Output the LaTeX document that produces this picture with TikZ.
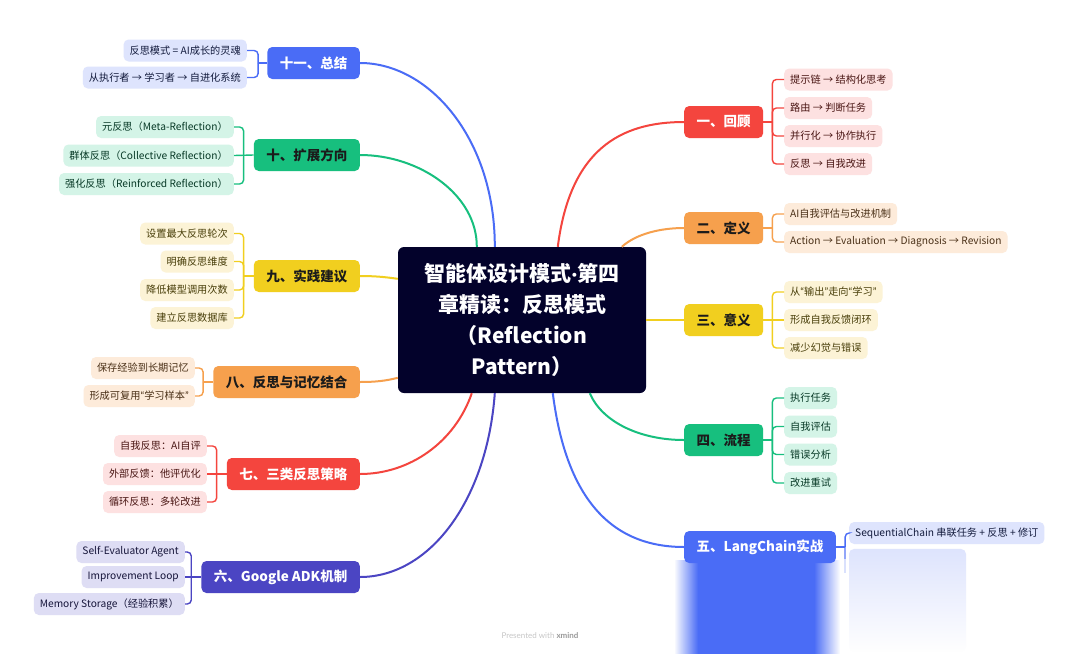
\documentclass[tikz,border=0pt]{standalone}
\usepackage{fontspec}
\setmainfont{Noto Sans CJK SC}
\newfontfamily\lat{Lato}
\usetikzlibrary{calc,fadings}
\definecolor{cRed}{HTML}{F4453E}
\definecolor{cRedL}{HTML}{FDE1E1}
\definecolor{cOra}{HTML}{F6A04D}
\definecolor{cOraL}{HTML}{FDEBDA}
\definecolor{cYel}{HTML}{F1CF1F}
\definecolor{cYelL}{HTML}{FCF3D6}
\definecolor{cGrn}{HTML}{17BF7E}
\definecolor{cGrnL}{HTML}{D4F4E7}
\definecolor{cBlu}{HTML}{4A6CF6}
\definecolor{cBluL}{HTML}{DEE4FD}
\definecolor{cInd}{HTML}{4B45C3}
\definecolor{cIndL}{HTML}{DEDDF4}
\definecolor{cCen}{HTML}{03022B}
\definecolor{cDark}{HTML}{1B1B1B}
\tikzfading[name=fadeL, left color=transparent!100, right color=transparent!0]
\tikzfading[name=fadeR, left color=transparent!0, right color=transparent!100]
\tikzfading[name=fadeD, top color=transparent!0, bottom color=transparent!100]
\newcommand\myqo{{\lat “}}
\newcommand\myqc{{\lat ”}}
\tikzset{
  maintopic/.style={rounded corners=5pt, minimum height=32pt, inner xsep=12.5pt, inner ysep=0pt,
    font=\bfseries\fontsize{13.5}{16}\selectfont},
  subtopic/.style={rounded corners=5pt, minimum height=22pt, inner xsep=6pt, inner ysep=0pt,
    font=\fontsize{10.2}{12}\selectfont},
  link/.style={line width=2pt},
  sublink/.style={line width=1.4pt, rounded corners=4pt},
}
\begin{document}
\begin{tikzpicture}[x=1pt,y=1pt]
\useasboundingbox (0,0) rectangle (1080,-654);
\fill[white] (0,0) rectangle (1080,-654);

% blurred remains under LangChain branch
\fill[cBlu] (698,-560) rectangle (814,-654);
\fill[cBlu, path fading=fadeL] (674,-560) rectangle (698,-654);
\fill[cBlu, path fading=fadeR] (814,-560) rectangle (840,-654);
\fill[cBluL, rounded corners=5pt, path fading=fadeD] (849,-549) rectangle (966,-652);

% central topic
\node[fill=cCen, text=white, rounded corners=6pt, minimum width=248pt, minimum height=146pt,
  align=center, font=\bfseries\fontsize{21}{31}\selectfont] (cen) at (522,-320)
  {智能体设计模式{\lat\bfseries ·}第四\\章精读：反思模式\\（Reflection\\Pattern）};

% ---------- right side ----------
\node[maintopic, fill=cRed, text=white, anchor=west] (t1) at (684,-122) {一、回顾};
\node[maintopic, fill=cOra, text=cDark, anchor=west] (t2) at (684,-228) {二、定义};
\node[maintopic, fill=cYel, text=cDark, anchor=west] (t3) at (684,-320) {三、意义};
\node[maintopic, fill=cGrn, text=cDark, anchor=west] (t4) at (684,-440) {四、流程};
\node[maintopic, fill=cBlu, text=white, anchor=west] (t5) at (684,-547) {五、LangChain实战};

\node[subtopic, fill=cRedL, text=cRed!30!black, anchor=west] (t1a) at (784,-79.5) {提示链 → 结构化思考};
\node[subtopic, fill=cRedL, text=cRed!30!black, anchor=west] (t1b) at (784,-108) {路由 → 判断任务};
\node[subtopic, fill=cRedL, text=cRed!30!black, anchor=west] (t1c) at (784,-136) {并行化 → 协作执行};
\node[subtopic, fill=cRedL, text=cRed!30!black, anchor=west] (t1d) at (784,-164) {反思 → 自我改进};

\node[subtopic, fill=cOraL, text=cOra!30!black, anchor=west] (t2a) at (784,-214) {AI自我评估与改进机制};
\node[subtopic, fill=cOraL, text=cOra!30!black, anchor=west] (t2b) at (784,-242) {Action → Evaluation → Diagnosis → Revision};

\node[subtopic, fill=cYelL, text=cYel!30!black, anchor=west] (t3a) at (784,-292) {从\myqo 输出\myqc 走向\myqo 学习\myqc};
\node[subtopic, fill=cYelL, text=cYel!30!black, anchor=west] (t3b) at (784,-320) {形成自我反馈闭环};
\node[subtopic, fill=cYelL, text=cYel!30!black, anchor=west] (t3c) at (784,-348) {减少幻觉与错误};

\node[subtopic, fill=cGrnL, text=cGrn!30!black, anchor=west] (t4a) at (784,-398) {执行任务};
\node[subtopic, fill=cGrnL, text=cGrn!30!black, anchor=west] (t4b) at (784,-426.5) {自我评估};
\node[subtopic, fill=cGrnL, text=cGrn!30!black, anchor=west] (t4c) at (784,-454.5) {错误分析};
\node[subtopic, fill=cGrnL, text=cGrn!30!black, anchor=west] (t4d) at (784,-483) {改进重试};

\node[subtopic, fill=cBluL, text=cBlu!25!black, anchor=west] (t5a) at (849,-533) {SequentialChain 串联任务 + 反思 + 修订};

% ---------- left side ----------
\node[maintopic, fill=cBlu, text=white, anchor=east] (t11) at (360,-63) {十一、总结};
\node[maintopic, fill=cGrn, text=cDark, anchor=east] (t10) at (360,-155) {十、扩展方向};
\node[maintopic, fill=cYel, text=cDark, anchor=east] (t9) at (360,-276) {九、实践建议};
\node[maintopic, fill=cOra, text=cDark, anchor=east] (t8) at (360,-382) {八、反思与记忆结合};
\node[maintopic, fill=cRed, text=white, anchor=east] (t7) at (360,-474) {七、三类反思策略};
\node[maintopic, fill=cInd, text=white, anchor=east] (t6) at (360,-577) {六、Google ADK机制};

\node[subtopic, fill=cBluL, text=cBlu!25!black, anchor=east] (t11a) at (247,-50.5) {反思模式 = AI成长的灵魂};
\node[subtopic, fill=cBluL, text=cBlu!25!black, anchor=east] (t11b) at (247,-77.5) {从执行者 → 学习者 → 自进化系统};

\node[subtopic, fill=cGrnL, text=cGrn!30!black, anchor=east] (t10a) at (234,-127) {元反思（Meta-Reflection）};
\node[subtopic, fill=cGrnL, text=cGrn!30!black, anchor=east] (t10b) at (234,-155.5) {群体反思（Collective Reflection）};
\node[subtopic, fill=cGrnL, text=cGrn!30!black, anchor=east] (t10c) at (234,-184) {强化反思（Reinforced Reflection）};

\node[subtopic, fill=cYelL, text=cYel!30!black, anchor=east] (t9a) at (234,-233.5) {设置最大反思轮次};
\node[subtopic, fill=cYelL, text=cYel!30!black, anchor=east] (t9b) at (234,-261.5) {明确反思维度};
\node[subtopic, fill=cYelL, text=cYel!30!black, anchor=east] (t9c) at (234,-290) {降低模型调用次数};
\node[subtopic, fill=cYelL, text=cYel!30!black, anchor=east] (t9d) at (234,-318) {建立反思数据库};

\node[subtopic, fill=cOraL, text=cOra!30!black, anchor=east] (t8a) at (195,-368) {保存经验到长期记忆};
\node[subtopic, fill=cOraL, text=cOra!30!black, anchor=east] (t8b) at (195,-396) {形成可复用\myqo 学习样本\myqc};

\node[subtopic, fill=cRedL, text=cRed!30!black, anchor=east] (t7a) at (207,-446) {自我反思：AI自评};
\node[subtopic, fill=cRedL, text=cRed!30!black, anchor=east] (t7b) at (207,-474) {外部反馈：他评优化};
\node[subtopic, fill=cRedL, text=cRed!30!black, anchor=east] (t7c) at (207,-502) {循环反思：多轮改进};

\node[subtopic, fill=cIndL, text=cInd!30!black, anchor=east] (t6a) at (185,-552) {Self-Evaluator Agent};
\node[subtopic, fill=cIndL, text=cInd!30!black, anchor=east] (t6b) at (185,-577) {Improvement Loop};
\node[subtopic, fill=cIndL, text=cInd!30!black, anchor=east] (t6c) at (185,-604) {Memory Storage（经验积累）};

% ---------- sub connectors ----------
\coordinate (e1) at ($(t1.east)+(9,0)$);
\coordinate (e2) at ($(t2.east)+(9,0)$);
\coordinate (e3) at ($(t3.east)+(9,0)$);
\coordinate (e4) at ($(t4.east)+(9,0)$);
\coordinate (e5) at ($(t5.east)+(9,0)$);
\coordinate (e5d) at ($(e5)+(0,-12)$);
\coordinate (e5e) at ($(e5)+(0,-26)$);
\coordinate (e11) at ($(t11.west)+(-9,0)$);
\coordinate (e10) at ($(t10.west)+(-10,0)$);
\coordinate (e9) at ($(t9.west)+(-10,0)$);
\coordinate (e8) at ($(t8.west)+(-10,0)$);
\coordinate (e7) at ($(t7.west)+(-10,0)$);
\coordinate (e6) at ($(t6.west)+(-10,0)$);

\draw[sublink, cRed] (t1.east) -- (e1);
\foreach \c in {t1a,t1b,t1c,t1d} \draw[sublink, cRed] (e1) |- (\c.west);
\draw[sublink, cOra] (t2.east) -- (e2);
\foreach \c in {t2a,t2b} \draw[sublink, cOra] (e2) |- (\c.west);
\draw[sublink, cYel] (t3.east) -- (t3b.west);
\foreach \c in {t3a,t3c} \draw[sublink, cYel] (e3) |- (\c.west);
\draw[sublink, cGrn] (t4.east) -- (e4);
\foreach \c in {t4a,t4b,t4c,t4d} \draw[sublink, cGrn] (e4) |- (\c.west);
\draw[sublink, cBlu] (t5.east) -- (e5);
\draw[sublink, cBlu] (e5) |- (t5a.west);
\draw[sublink, cBlu, opacity=0.6] (e5) -- (e5d);
\draw[sublink, cBlu, opacity=0.2] (e5d) -- (e5e);

\draw[sublink, cBlu] (t11.west) -- (e11);
\foreach \c in {t11a,t11b} \draw[sublink, cBlu] (e11) |- (\c.east);
\draw[sublink, cGrn] (t10.west) -- (t10b.east);
\foreach \c in {t10a,t10c} \draw[sublink, cGrn] (e10) |- (\c.east);
\draw[sublink, cYel] (t9.west) -- (e9);
\foreach \c in {t9a,t9b,t9c,t9d} \draw[sublink, cYel] (e9) |- (\c.east);
\draw[sublink, cOra] (t8.west) -- (e8);
\foreach \c in {t8a,t8b} \draw[sublink, cOra] (e8) |- (\c.east);
\draw[sublink, cRed] (t7.west) -- (t7b.east);
\foreach \c in {t7a,t7c} \draw[sublink, cRed] (e7) |- (\c.east);
\draw[sublink, cInd] (t6.west) -- (t6b.east);
\foreach \c in {t6a,t6c} \draw[sublink, cInd] (e6) |- (\c.east);

% ---------- main connectors ----------
\draw[link, cRed] ($(cen.north west)+(160,0)$) .. controls (570,-150) and (620,-122) .. (t1.west);
\draw[link, cOra] ($(cen.north west)+(224,0)$) .. controls (636,-234) and (660,-228) .. (t2.west);
\draw[link, cYel] (cen.east) -- (t3.west);
\draw[link, cGrn] ($(cen.south west)+(192,0)$) .. controls (602,-422) and (640,-440) .. (t4.west);
\draw[link, cBlu] ($(cen.south west)+(155,0)$) .. controls (565,-490) and (605,-547) .. (t5.west);
\draw[link, cBlu] ($(cen.north west)+(97,0)$) .. controls (495,-140) and (430,-63) .. (t11.east);
\draw[link, cGrn] ($(cen.north west)+(79,0)$) .. controls (477,-195) and (420,-155) .. (t10.east);
\draw[link, cYel] ($(cen.north west)+(0,-32)$) .. controls (385,-277) and (375,-276) .. (t9.east);
\draw[link, cOra] ($(cen.north west)+(0,-131)$) .. controls (385,-381) and (375,-382) .. (t8.east);
\draw[link, cRed] ($(cen.south west)+(74,0)$) .. controls (455,-442) and (410,-474) .. (t7.east);
\draw[link, cInd] ($(cen.south west)+(97,0)$) .. controls (487,-500) and (430,-577) .. (t6.east);

% footer
\node[text=black!22, font=\fontsize{8}{10}\selectfont] (pw) at (540,-636)
  {\lat Presented with {\color{black!40}\bfseries xmind}};
\end{tikzpicture}
\end{document}
